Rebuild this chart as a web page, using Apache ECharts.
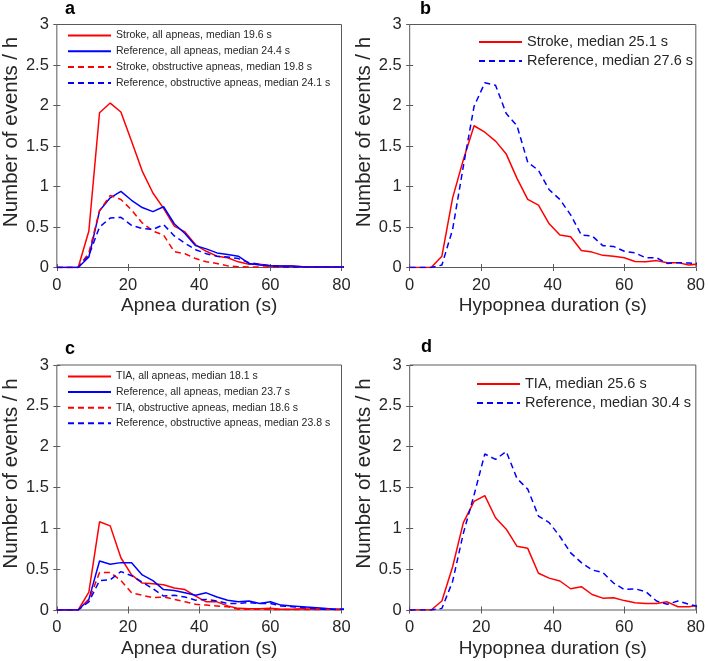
<!DOCTYPE html>
<html>
<head>
<meta charset="utf-8">
<script src="https://cdn.jsdelivr.net/npm/echarts@6/dist/echarts.min.js"></script>
<style>html,body{margin:0;padding:0;background:#fff}#c{width:708px;height:661px}</style>
</head>
<body>
<div id="c"></div>
<script>
// Durations (s), 3-s bins
const durations = [0,3,6,9,12,15,18,21,24,27,30,33,36,39,42,45,48,51,54,57,60,63,66,69,72,75,78,81];
const xTicks = [0,20,40,60,80];
const yTicks = [0,0.5,1,1.5,2,2.5,3];

// Panel a: apneas, stroke vs reference
const aStrokeAll = [0,0,0,0.45,1.91,2.03,1.92,1.56,1.19,0.92,0.73,0.51,0.44,0.28,0.20,0.14,0.12,0.07,0.04,0.04,0.025,0.02,0.02,0.01,0.01,0.01,0.005,0.005];
const aRefAll    = [0,0,0,0.13,0.70,0.86,0.94,0.83,0.74,0.69,0.75,0.54,0.42,0.27,0.23,0.18,0.16,0.14,0.05,0.03,0.02,0.02,0.02,0.01,0.005,0.005,0.005,0.005];
const aStrokeObs = [0,0,0,0.18,0.70,0.89,0.84,0.71,0.55,0.45,0.40,0.195,0.17,0.11,0.07,0.05,0.02,0.01,0.005,0.005,0.005,0.005,0.005,0.005,0.005,0.005,0.005,0.005];
const aRefObs    = [0,0,0,0.15,0.50,0.61,0.62,0.52,0.48,0.47,0.53,0.39,0.30,0.22,0.17,0.14,0.13,0.11,0.06,0.04,0.02,0.01,0.005,0.005,0.005,0.005,0.005,0.005];

// Panel b: hypopneas, stroke vs reference
const bStroke = [0,0,0,0.14,0.86,1.33,1.75,1.67,1.56,1.40,1.10,0.84,0.77,0.54,0.40,0.38,0.21,0.19,0.15,0.14,0.12,0.075,0.07,0.085,0.06,0.06,0.03,0.045];
const bRef    = [0,0,0,0.03,0.47,1.25,1.99,2.28,2.25,1.90,1.75,1.30,1.20,0.96,0.84,0.65,0.40,0.39,0.27,0.26,0.20,0.18,0.12,0.12,0.05,0.06,0.055,0.05];

// Panel c: apneas, TIA vs reference
const cTiaAll = [0,0,0,0.22,1.08,1.03,0.64,0.43,0.33,0.32,0.31,0.27,0.25,0.17,0.10,0.10,0.05,0.02,0.015,0.015,0.02,0.01,0.01,0.015,0.01,0.015,0.005,0.005];
const cRefAll = [0,0,0,0.13,0.60,0.56,0.58,0.58,0.43,0.36,0.25,0.24,0.21,0.18,0.21,0.16,0.12,0.10,0.11,0.08,0.10,0.06,0.05,0.04,0.03,0.02,0.01,0.01];
const cTiaObs = [0,0,0,0.12,0.46,0.46,0.36,0.21,0.18,0.15,0.16,0.13,0.10,0.07,0.06,0.05,0.04,0.01,0.01,0.01,0.005,0.005,0.005,0.005,0.005,0.005,0.005,0.005];
const cRefObs = [0,0,0,0.10,0.36,0.37,0.47,0.42,0.34,0.26,0.17,0.18,0.16,0.12,0.13,0.11,0.08,0.08,0.09,0.08,0.08,0.05,0.04,0.03,0.02,0.01,0.01,0.01];

// Panel d: hypopneas, TIA vs reference
const dTia = [0,0,0,0.11,0.53,1.07,1.33,1.40,1.13,0.99,0.78,0.755,0.45,0.39,0.355,0.26,0.285,0.19,0.145,0.15,0.115,0.09,0.08,0.08,0.10,0.04,0.04,0.06];
const dRef = [0,0,0,0.02,0.35,0.94,1.41,1.91,1.845,1.94,1.61,1.48,1.15,1.07,0.90,0.70,0.58,0.49,0.46,0.33,0.25,0.26,0.225,0.11,0.07,0.11,0.07,0.04];

const panelLetters = ['a','b','c','d'];
const xNames = ['Apnea duration (s)','Hypopnea duration (s)','Apnea duration (s)','Hypopnea duration (s)'];
const yName = 'Number of events / h';

const panelSeries = [
  [['Stroke, all apneas, median 19.6 s', aStrokeAll, 'red', 'solid'],
   ['Reference, all apneas, median 24.4 s', aRefAll, 'blue', 'solid'],
   ['Stroke, obstructive apneas, median 19.8 s', aStrokeObs, 'red', 'dashed'],
   ['Reference, obstructive apneas, median 24.1 s', aRefObs, 'blue', 'dashed']],
  [['Stroke, median 25.1 s', bStroke, 'red', 'solid'],
   ['Reference, median 27.6 s', bRef, 'blue', 'dashed']],
  [['TIA, all apneas, median 18.1 s', cTiaAll, 'red', 'solid'],
   ['Reference, all apneas, median 23.7 s', cRefAll, 'blue', 'solid'],
   ['TIA, obstructive apneas, median 18.6 s', cTiaObs, 'red', 'dashed'],
   ['Reference, obstructive apneas, median 23.8 s', cRefObs, 'blue', 'dashed']],
  [['TIA, median 25.6 s', dTia, 'red', 'solid'],
   ['Reference, median 30.4 s', dRef, 'blue', 'dashed']]
];

// layout
const gridBoxes = [
  {left:54.5, top:24.5, width:287, height:243},
  {left:409.7, top:24.5, width:287.6, height:243},
  {left:54.5, top:365, width:287, height:245},
  {left:409.7, top:365, width:287.6, height:245}
];
const legendPos = [
  {left:67, top:28.5, font:10.5, lh:14, gap:1.8},
  {left:478, top:33.5, font:14.5, lh:17, gap:2},
  {left:67, top:369.5, font:10.5, lh:14, gap:1.6},
  {left:476, top:375.5, font:14.5, lh:17, gap:2}
];
const titlePos = [{left:65,top:0},{left:420,top:0},{left:65,top:340},{left:421,top:338}];

const FONT = '"Liberation Sans", Arial, Helvetica, sans-serif';
const TXT = '#262626';
const AX = '#5a5a5a';
const colors = {red:'#ff0000', blue:'#0000ff'};

const grid = [], xAxis = [], yAxis = [], series = [], legend = [], title = [];
gridBoxes.forEach((g, i) => {
  grid.push(Object.assign({show:true, borderColor:AX, borderWidth:1, backgroundColor:'transparent', containLabel:false}, g));
  const xBase = {type:'value', gridIndex:i, min:xTicks[0], max:xTicks[xTicks.length-1], interval:xTicks[1]-xTicks[0],
    splitLine:{show:false}, axisLine:{show:false},
    axisTick:{show:true, inside:true, length:3.5, lineStyle:{color:AX}}};
  const yBase = {type:'value', gridIndex:i, min:yTicks[0], max:yTicks[yTicks.length-1], interval:yTicks[1]-yTicks[0],
    splitLine:{show:false}, axisLine:{show:false},
    axisTick:{show:true, inside:true, length:3.5, lineStyle:{color:AX}}};
  xAxis.push(Object.assign({}, xBase, {position:'bottom',
    name:xNames[i], nameLocation:'middle', nameGap:29,
    nameTextStyle:{fontFamily:FONT, fontSize:19, color:TXT},
    axisLabel:{fontFamily:FONT, fontSize:16.5, color:TXT, margin:9}}));
  xAxis.push(Object.assign({}, xBase, {position:'top', axisLabel:{show:false}}));
  yAxis.push(Object.assign({}, yBase, {position:'left',
    name:yName, nameLocation:'middle', nameGap:32,
    nameTextStyle:{fontFamily:FONT, fontSize:20.5, color:TXT, padding:[0,0,0,28]},
    axisLabel:{fontFamily:FONT, fontSize:16.5, color:TXT, margin:8}}));
  yAxis.push(Object.assign({}, yBase, {position:'right', axisLabel:{show:false}}));

  const names = [];
  panelSeries[i].forEach(s => {
    const [name, vals, col, style] = s;
    names.push(name);
    series.push({
      name, type:'line', xAxisIndex:2*i, yAxisIndex:2*i,
      data: durations.map((d, k) => [d, vals[k]]),
      symbol:'none', showSymbol:false, clip:true, animation:false,
      lineStyle:{color:colors[col], width:1.5, type: style === 'dashed' ? [6,4] : 'solid'},
      itemStyle:{color:colors[col]}
    });
  });
  const lp = legendPos[i];
  legend.push({
    data:names, orient:'vertical', left:lp.left, top:lp.top, padding:0,
    itemWidth:43, itemHeight:10, itemGap:lp.gap, align:'left',
    itemStyle:{opacity:0},
    textStyle:{fontFamily:FONT, fontSize:lp.font, color:TXT, lineHeight:lp.lh},
    selectedMode:false
  });
  title.push({text:panelLetters[i], left:titlePos[i].left, top:titlePos[i].top, padding:0,
    textStyle:{fontFamily:FONT, fontSize:18, fontWeight:'bold', color:'#000'}});
});

const chart = echarts.init(document.getElementById('c'), null, {renderer:'canvas'});
chart.setOption({animation:false, backgroundColor:'#fff', title, grid, xAxis, yAxis, legend, series});
</script>
</body>
</html>
